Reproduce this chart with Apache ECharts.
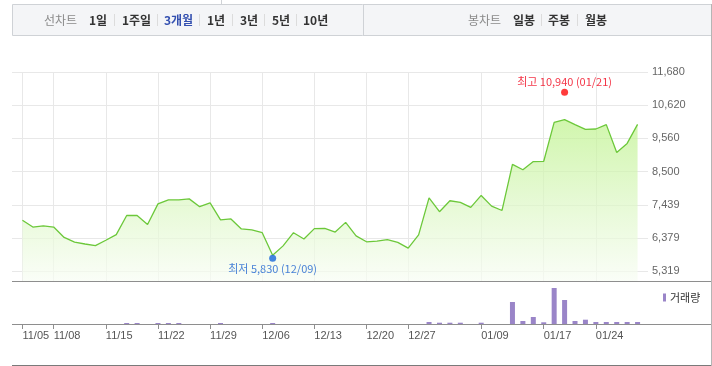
<!DOCTYPE html>
<html><head><meta charset="utf-8">
<script src="https://cdn.jsdelivr.net/npm/echarts@6/dist/echarts.min.js"></script>
<style>html,body{margin:0;padding:0;background:#fff}#c{width:712px;height:366px}</style>
</head><body><div id="c"></div>
<script>
// ---------- DATA ----------
const dates = [
  '11/05','11/06','11/07','11/08','11/11','11/12','11/13','11/14','11/15','11/18',
  '11/19','11/20','11/21','11/22','11/25','11/26','11/27','11/28','11/29',
  '12/02','12/03','12/04','12/05','12/06','12/09','12/10','12/11','12/12','12/13',
  '12/16','12/17','12/18','12/19','12/20','12/23','12/24','12/26','12/27','12/30',
  '01/02','01/03','01/06','01/07','01/08','01/09','01/10','01/13','01/14','01/15',
  '01/16','01/17','01/20','01/21','01/22','01/23','01/24','01/31',
  '02/03','02/04','02/05'
];
const prices = [
  6950, 6730, 6770, 6730, 6400, 6250, 6190, 6140, 6310, 6490,
  7100, 7100, 6810, 7470, 7600, 7600, 7630, 7380, 7500,
  6960, 6990, 6670, 6640, 6550, 5830, 6130, 6550, 6350, 6680,
  6690, 6570, 6880, 6450, 6260, 6280, 6330, 6240, 6060, 6480,
  7660, 7220, 7570, 7520, 7360, 7740, 7400, 7260, 8730, 8560,
  8820, 8830, 10070, 10160, 10000, 9850, 9860, 10000,
  9110, 9400, 10010
];
const volumes = [
  0, 0, 0, 0, 0, 0, 0, 0, 0, 0,
  50000, 50000, 0, 50000, 50000, 50000, 0, 0, 0,
  50000, 0, 0, 0, 0, 50000, 0, 0, 0, 0,
  0, 0, 0, 0, 0, 0, 0, 0, 0, 0,
  100000, 65000, 65000, 65000, 0, 65000, 0, 0, 1100000, 150000,
  350000, 85000, 1800000, 1200000, 150000, 215000, 100000, 100000,
  100000, 100000, 100000
];
const xTickDates = ['11/05','11/08','11/15','11/22','11/29','12/06','12/13','12/20','12/27','01/09','01/17','01/24'];
const yTickValues = [5319, 6379.17, 7439.33, 8499.5, 9559.67, 10619.83, 11680];
const yTickLabels = ['5,319','6,379','7,439','8,500','9,560','10,620','11,680'];
const highPoint = ['01/21', 10940];
const lowPoint = ['12/09', 5830];
const highText = '최고 10,940 (01/21)';
const lowText = '최저 5,830 (12/09)';
const lineTabsTitle = '선차트';
const lineTabs = ['1일','1주일','3개월','1년','3년','5년','10년'];
const candleTabsTitle = '봉차트';
const candleTabs = ['일봉','주봉','월봉'];
const volumeName = '거래량';

// ---------- LAYOUT / STYLE ----------
const KR = '"Noto Sans CJK KR", "Noto Sans", sans-serif';
const NUM = '"Liberation Sans", Arial, sans-serif';
const tickSet = new Set(xTickDates);
const showTick = (i, v) => tickSet.has(v);
const lineTabX = [89, 122, 164, 207, 240, 272, 303];
const lineSepX = [114, 157, 199, 232, 264, 296];
const candleTabX = [513, 548, 585];
const candleSepX = [541, 577];

const g = [];
g.push({type:'rect', z:1, shape:{x:12.5,y:4.5,width:700,height:31}, style:{fill:'#f4f5f7',stroke:'#cfd2d6',lineWidth:1}});
g.push({type:'line', z:2, shape:{x1:221.5,y1:0,x2:221.5,y2:4.5}, style:{stroke:'#cfd2d6',lineWidth:1}});
g.push({type:'line', z:2, shape:{x1:363.5,y1:4.5,x2:363.5,y2:35.5}, style:{stroke:'#cfd2d6',lineWidth:1}});
g.push({type:'text', z:3, x:44, y:20, style:{text:lineTabsTitle, font:'12px '+KR, fill:'#8a8a8a', textVerticalAlign:'middle'}});
lineTabs.forEach((t,i)=>{
  g.push({type:'text', z:3, x:lineTabX[i], y:20, style:{text:t, font:'bold 12px '+KR, fill: t==='3개월' ? '#3450b0' : '#333', textVerticalAlign:'middle'}});
});
lineSepX.forEach(x=>g.push({type:'line', z:3, shape:{x1:x+0.5,y1:14,x2:x+0.5,y2:26}, style:{stroke:'#dcdcdc',lineWidth:1}}));
g.push({type:'text', z:3, x:468, y:20, style:{text:candleTabsTitle, font:'12px '+KR, fill:'#8a8a8a', textVerticalAlign:'middle'}});
candleTabs.forEach((t,i)=>{
  g.push({type:'text', z:3, x:candleTabX[i], y:20, style:{text:t, font:'bold 12px '+KR, fill:'#333', textVerticalAlign:'middle'}});
});
candleSepX.forEach(x=>g.push({type:'line', z:3, shape:{x1:x+0.5,y1:14,x2:x+0.5,y2:26}, style:{stroke:'#dcdcdc',lineWidth:1}}));
g.push({type:'line', z:50, shape:{x1:12,y1:281.5,x2:712,y2:281.5}, style:{stroke:'#8e8e8e',lineWidth:1}});
g.push({type:'line', z:50, shape:{x1:12,y1:324.5,x2:712,y2:324.5}, style:{stroke:'#8e8e8e',lineWidth:1}});
g.push({type:'line', z:50, shape:{x1:12,y1:365.5,x2:712,y2:365.5}, style:{stroke:'#7a7a7a',lineWidth:1}});
g.push({type:'line', z:50, shape:{x1:711.5,y1:4,x2:711.5,y2:366}, style:{stroke:'#b5b5b5',lineWidth:1}});

const chart = echarts.init(document.getElementById('c'), null, {renderer:'canvas'});
chart.setOption({
  animation:false,
  backgroundColor:'#fff',
  graphic: g,
  legend: {
    data:[{name:volumeName, icon:'rect'}],
    left: 658, top: 287, itemWidth:3, itemHeight:8, itemGap:0,
    textStyle:{fontSize:11, color:'#333', fontFamily:KR, padding:[0,0,0,-1]},
    selectedMode:false
  },
  grid: [
    {left:12, right:64, top:72, height:209},
    {left:12, right:64, top:281, height:43}
  ],
  xAxis: [
    {type:'category', gridIndex:0, data:dates, boundaryGap:false, min:-1, max:dates.length,
     axisLine:{show:false}, axisTick:{show:false}, axisLabel:{show:false},
     splitLine:{show:true, interval:showTick, lineStyle:{color:'#e8e8e8',width:1}}},
    {type:'category', gridIndex:1, data:dates, boundaryGap:false, min:-1, max:dates.length,
     axisLine:{show:false},
     axisTick:{show:true, interval:showTick, length:5, inside:false, lineStyle:{color:'#8e8e8e'}},
     axisLabel:{show:true, interval:showTick, align:'left', margin:6, fontSize:11, color:'#555', fontFamily:NUM},
     splitLine:{show:false}}
  ],
  yAxis: [
    {type:'value', gridIndex:0, position:'right', min:5009, max:11680,
     axisLine:{show:false},
     axisTick:{show:false, customValues:yTickValues},
     axisLabel:{customValues:yTickValues, margin:4, fontSize:11, color:'#666', fontFamily:NUM,
       formatter:v=>{let b=0;yTickValues.forEach((t,i)=>{if(Math.abs(t-v)<Math.abs(yTickValues[b]-v))b=i;});return yTickLabels[b];}},
     splitLine:{show:true, lineStyle:{color:'#e8e8e8',width:1}}},
    {type:'value', gridIndex:1, min:0, max:2150000, show:false, splitLine:{show:false}}
  ],
  series: [
    {type:'line', name:'price', xAxisIndex:0, yAxisIndex:0, data:prices, symbol:'none',
     lineStyle:{color:'#6cc83a', width:1.3},
     areaStyle:{origin:'start', color:new echarts.graphic.LinearGradient(0,0,0,1,[
       {offset:0,color:'#bdf28a'},{offset:0.5,color:'#dbf7c2'},{offset:1,color:'#f8fdf4'}])}},
    {type:'bar', name:volumeName, xAxisIndex:1, yAxisIndex:1, data:volumes, barWidth:5,
     itemStyle:{color:'#9a85c8'}},
    {type:'scatter', name:'high', xAxisIndex:0, yAxisIndex:0, data:[highPoint], symbol:'circle', symbolSize:7,
     symbolOffset:[0,-3], itemStyle:{color:'#ff0a0a'}, z:10,
     label:{show:true, position:'top', distance:1, formatter:highText, color:'#f00018', fontSize:11, fontFamily:KR}},
    {type:'scatter', name:'low', xAxisIndex:0, yAxisIndex:0, data:[lowPoint], symbol:'circle', symbolSize:7,
     symbolOffset:[0,3], itemStyle:{color:'#1767d9'}, z:10,
     label:{show:true, position:'bottom', distance:2, formatter:lowText, color:'#1a62d0', fontSize:11, fontFamily:KR}}
  ]
});
</script></body></html>
